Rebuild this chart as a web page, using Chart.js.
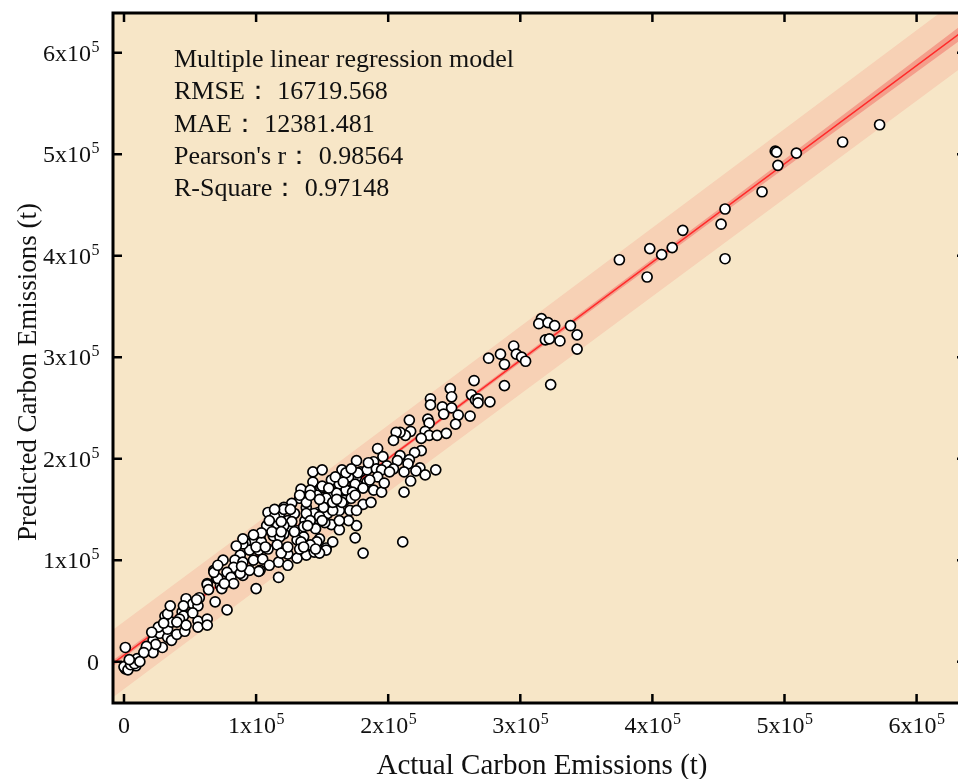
<!DOCTYPE html>
<html>
<head>
<meta charset="utf-8">
<script src="https://cdn.jsdelivr.net/npm/chart.js@4"></script>
<style>
  html, body { margin: 0; padding: 0; background: #fff; overflow: hidden; }
  #wrap { width: 975px; height: 779px; position: relative; }
</style>
</head>
<body>
<div id="wrap"><canvas id="scatterChart"></canvas></div>
<script>
// values in thousand tonnes (1x10^5 t = 100)
const actualKt = [
    572, 544, 509, 493, 494, 495, 483, 455, 452, 455, 423, 415, 407, 398, 375, 396, 338, 343, 343, 330,
    316, 314, 321, 326, 319, 322, 323, 295, 285, 297, 301, 304, 276, 288, 265, 288, 247, 263, 248, 232,
    266, 268, 268, 277, 232, 241, 248, 242, 253, 262, 251, 216, 230, 231, 228, 217, 231, 237, 244, 225,
    213, 209, 225, 220, 209, 216, 215, 224, 221, 228, 236, 212, 217, 212,
    206, 204, 192, 176, 189, 196, 199, 207, 204, 165, 171, 179, 184, 191, 157, 143, 149, 134, 163, 171,
    177, 184, 189, 195, 155, 167, 133, 127, 121, 109, 118, 138, 147, 156, 162, 171, 181, 187, 129, 137,
    146, 154, 163, 124, 116, 108, 126, 131, 121, 113, 103, 98, 145, 136, 148, 153, 157, 176, 175, 211,
    92, 104, 118, 95, 102, 109, 116, 88, 84, 90, 98, 105, 117, 124, 131, 138, 144, 153, 124, 110,
    103, 83, 78, 68, 70, 81, 117, 63, 73, 100, 146, 131, 134, 176, 148, 90,
    163, 170, 175, 168, 161, 153, 146, 138, 165, 173, 158, 151, 144, 138, 127, 129, 121, 141, 136,
    1, 1, 1, 6, 10, 9, 16, 22, 22, 29, 27, 33, 33, 36, 40, 46, 36, 31, 33, 35,
    44, 45, 42, 47, 47, 52, 56, 57, 56, 63, 56, 63, 69, 78, 63, 71, 74, 68, 83, 90,
    102, 26, 24, 17, 15,
    0, 3, 5, 8, 12, 4, 181,
    150, 155, 141, 133, 121, 114, 119, 112, 104, 98, 90, 85, 75, 71, 88, 95, 64, 119, 133, 141,
    158, 163, 170, 176, 168, 177, 172, 158, 148, 152,
    143, 150, 160, 166, 172, 185, 195, 201, 192, 186, 197, 181, 175, 161, 148, 141, 126, 114, 110, 119,
    139, 150, 163, 100, 107, 124, 136, 145,
    40, 30, 21, 52, 55, 45, 76, 89
];
const predictedKt = [
    529, 512, 501, 503, 502, 489, 463, 446, 431, 397, 425, 408, 401, 407, 396, 379, 331, 322, 308, 316,
    338, 333, 334, 331, 317, 318, 273, 311, 303, 303, 300, 296, 299, 293, 277, 272, 269, 263, 261, 259,
    258, 259, 255, 256, 253, 251, 250, 244, 243, 242, 234, 238, 239, 235, 227, 227, 223, 223, 225, 220,
    223, 226, 208, 206, 203, 199, 195, 191, 188, 184, 189, 187, 178, 167,
    226, 218, 210, 198, 197, 202, 193, 198, 190, 189, 181, 187, 189, 190, 179, 177, 171, 170, 169, 169,
    174, 177, 169, 167, 164, 159, 161, 156, 152, 147, 146, 152, 147, 151, 152, 149, 155, 157, 146, 139,
    141, 146, 149, 139, 136, 134, 133, 129, 126, 124, 121, 118, 131, 123, 121, 112, 135, 134, 122, 118,
    117, 118, 123, 110, 110, 111, 115, 105, 100, 98, 100, 101, 98, 106, 102, 105, 108, 110, 95, 95,
    90, 93, 88, 90, 82, 83, 83, 77, 75, 72, 118, 120, 118, 182, 107, 116,
    175, 182, 175, 169, 166, 161, 164, 157, 157, 167, 149, 152, 146, 146, 138, 128, 134, 139, 133,
    14, -4, -7, 1, 3, -4, 11, 9, 21, 14, 28, 24, 32, 21, 27, 30, 39, 45, 47, 55,
    49, 45, 42, 36, 62, 57, 55, 63, 40, 42, 34, 36, 59, 51, 76, 82, 72, 88, 77, 85,
    89, 34, 17, 15, 9,
    -5, -8, -3, -2, 0, 2, 107,
    173, 171, 169, 164, 150, 143, 138, 128, 127, 125, 121, 114, 100, 95, 87, 90, 71, 107, 111, 115,
    118, 130, 139, 149, 186, 186, 161, 157, 143, 137,
    187, 189, 182, 177, 190, 196, 189, 187, 182, 179, 176, 171, 164, 160, 160, 164, 150, 150, 139, 128,
    134, 139, 139, 113, 113, 113, 113, 111,
    39, 38, 29, 48, 61, 55, 77, 94
];

// fitted line, 95% confidence band and prediction band
const fitX = [-8.33, 160, 637.4];
const fitY = [-1.6, 161.4, 623.5];
const predUpper = [31.5, 194.0, 658.5];
const predLower = [-35.0, 128.8, 588.5];
const confX = [-8.33, 0, 80, 160, 300, 450, 637.4];
const confUpper = [1.4, 9.2, 85.9, 163.0, 299.3, 445.6, 630.5];
const confLower = [-4.6, 3.8, 81.9, 159.8, 294.5, 438.6, 616.5];

const tickVals = [0, 100, 200, 300, 400, 500, 600];
const tickLabels = ['0', '1x10^5', '2x10^5', '3x10^5', '4x10^5', '5x10^5', '6x10^5'];

const statLines = [
    'Multiple linear regression model',
    'RMSE\uFF1A 16719.568',
    'MAE\uFF1A 12381.481',
    "Pearson's r\uFF1A 0.98564",
    'R-Square\uFF1A 0.97148'
];

const SERIF = '"Liberation Serif", "Times New Roman", serif';

function pts(xs, ys) {
    return xs.map((x, i) => ({ x: x, y: ys[i] }));
}

function drawLabel(ctx, text, x, y, align) {
    const parts = text.split('^');
    ctx.font = '24px ' + SERIF;
    const w1 = ctx.measureText(parts[0]).width;
    let w2 = 0;
    if (parts[1]) {
        ctx.font = '16px ' + SERIF;
        w2 = ctx.measureText(parts[1]).width;
    }
    let start = x - (w1 + w2) / 2;
    if (align === 'right') start = x - w1 - w2;
    ctx.textAlign = 'left';
    ctx.font = '24px ' + SERIF;
    ctx.fillText(parts[0], start, y);
    if (parts[1]) {
        ctx.font = '16px ' + SERIF;
        ctx.fillText(parts[1], start + w1 + 0.5, y - 9);
    }
}

const framePlugin = {
    id: 'frame',
    beforeDatasetsDraw(chart) {
        const { ctx, chartArea: a } = chart;
        ctx.save();
        ctx.fillStyle = '#f7e6c7';
        ctx.fillRect(a.left, a.top, a.right - a.left, a.bottom - a.top);
        ctx.restore();
    },
    afterDraw(chart) {
        const { ctx, chartArea: a } = chart;
        const xs = chart.scales.x, ys = chart.scales.y;
        ctx.save();
        ctx.strokeStyle = '#000';
        ctx.lineWidth = 3;
        ctx.strokeRect(a.left, a.top, a.right - a.left, a.bottom - a.top);

        // inward ticks on all four sides
        ctx.lineWidth = 2.5;
        const tl = 9;
        tickVals.forEach(v => {
            const px = xs.getPixelForValue(v);
            const py = ys.getPixelForValue(v);
            ctx.beginPath();
            ctx.moveTo(px, a.bottom); ctx.lineTo(px, a.bottom - tl);
            ctx.moveTo(px, a.top); ctx.lineTo(px, a.top + tl);
            ctx.moveTo(a.left, py); ctx.lineTo(a.left + tl, py);
            ctx.moveTo(a.right, py); ctx.lineTo(a.right - tl, py);
            ctx.stroke();
        });

        ctx.fillStyle = '#111';
        ctx.textBaseline = 'alphabetic';
        tickVals.forEach((v, i) => {
            drawLabel(ctx, tickLabels[i], xs.getPixelForValue(v), a.bottom + 30, 'center');
            drawLabel(ctx, tickLabels[i], 99, ys.getPixelForValue(v) + 8, 'right');
        });

        // axis titles
        ctx.textAlign = 'center';
        ctx.font = '29px ' + SERIF;
        ctx.fillText('Actual Carbon Emissions (t)', 542, 774);
        ctx.save();
        ctx.font = '27px ' + SERIF;
        ctx.translate(36, 372);
        ctx.rotate(-Math.PI / 2);
        ctx.fillText('Predicted Carbon Emissions (t)', 0, 0);
        ctx.restore();

        // statistics text
        ctx.font = '26px ' + SERIF;
        ctx.textAlign = 'left';
        statLines.forEach((s, i) => ctx.fillText(s, 174, 67 + i * 32.3));
        ctx.restore();
    }
};

const ctx = document.getElementById('scatterChart').getContext('2d');
const chart = new Chart(ctx, {
    type: 'scatter',
    data: {
        datasets: [
            {
                type: 'line',
                data: pts(fitX, predUpper),
                borderWidth: 0,
                pointRadius: 0,
                backgroundColor: 'rgba(247, 205, 178, 0.85)',
                fill: '+1',
                order: 4
            },
            {
                type: 'line',
                data: pts(fitX, predLower),
                borderWidth: 0,
                pointRadius: 0,
                fill: false,
                order: 4
            },
            {
                type: 'line',
                data: pts(confX, confUpper),
                borderWidth: 0,
                pointRadius: 0,
                backgroundColor: 'rgba(243, 140, 125, 0.75)',
                fill: '+1',
                order: 3
            },
            {
                type: 'line',
                data: pts(confX, confLower),
                borderWidth: 0,
                pointRadius: 0,
                fill: false,
                order: 3
            },
            {
                type: 'line',
                data: pts(fitX, fitY),
                borderColor: '#ff2a2a',
                borderWidth: 1.5,
                pointRadius: 0,
                fill: false,
                order: 2
            },
            {
                data: pts(actualKt, predictedKt),
                pointRadius: 5,
                pointBackgroundColor: '#ffffff',
                pointBorderColor: '#000000',
                pointBorderWidth: 1.7,
                order: 1
            }
        ]
    },
    options: {
        responsive: true,
        maintainAspectRatio: false,
        animation: false,
        layout: {
            padding: { left: 113, top: 13, right: 9, bottom: 76 }
        },
        plugins: {
            legend: { display: false },
            tooltip: { enabled: false }
        },
        scales: {
            x: { type: 'linear', min: -8.33, max: 637.4, display: false },
            y: { type: 'linear', min: -40.7, max: 639.1, display: false }
        }
    },
    plugins: [framePlugin]
});
</script>
</body>
</html>
